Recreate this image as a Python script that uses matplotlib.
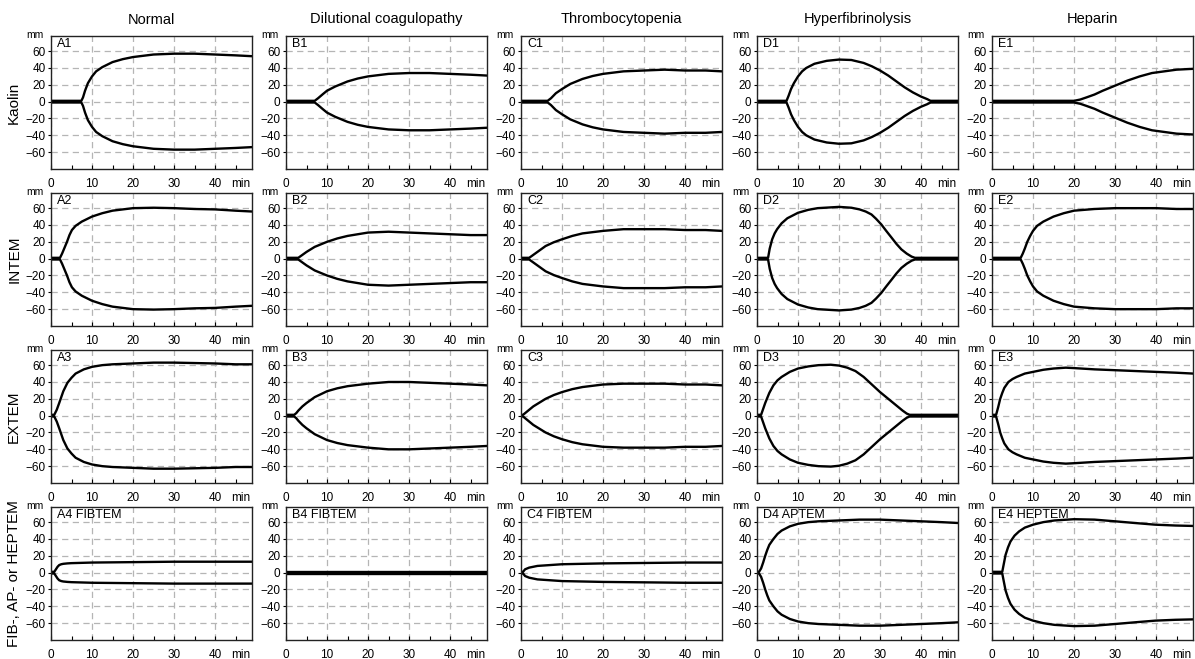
import matplotlib.pyplot as plt
from matplotlib.ticker import MultipleLocator

plt.rcParams['font.family'] = ['Liberation Sans', 'DejaVu Sans']

# column titles / row labels
col_titles = ["Normal", "Dilutional coagulopathy", "Thrombocytopenia", "Hyperfibrinolysis", "Heparin"]
row_labels = ["Kaolin", "INTEM", "EXTEM", "FIB-, AP- or HEPTEM"]
panel_labels = [
    ["A1", "B1", "C1", "D1", "E1"],
    ["A2", "B2", "C2", "D2", "E2"],
    ["A3", "B3", "C3", "D3", "E3"],
    ["A4 FIBTEM", "B4 FIBTEM", "C4 FIBTEM", "D4 APTEM", "E4 HEPTEM"],
]

# amplitude (mm) vs time (min); lower trace = -amplitude
A1_t = [0, 7.4, 7.8, 8.3, 9, 10, 11, 12.5, 15, 17.5, 20, 25, 30, 35, 40, 45, 49]
A1_mm = [1, 1, 5, 13, 22, 30, 36, 41, 47, 50.5, 53, 56, 57, 57, 56, 55, 54]
B1_t = [0, 7, 7.8, 9, 10, 12, 15, 17.5, 20, 25, 30, 35, 40, 45, 49]
B1_mm = [1, 1, 4, 9, 13, 18, 24, 27.5, 30, 33, 34, 34, 33, 32, 31]
C1_t = [0, 6.5, 7.3, 8.5, 10, 12, 15, 17.5, 20, 25, 30, 35, 40, 45, 49]
C1_mm = [1, 1, 4, 10, 15, 21, 27, 30.5, 33, 36, 37, 38, 37, 37, 36]
D1_t = [0, 7.2, 7.7, 8.3, 9, 10, 11, 12, 14, 17, 20, 23, 26, 28, 30, 32, 34, 36, 38, 40, 41.5, 42.3, 49]
D1_mm = [1, 1, 7, 15, 22, 30, 36, 40, 45, 48.5, 50, 49.5, 46, 42, 37, 31, 24, 17, 11, 6, 3, 1, 1]
E1_t = [0, 20, 21.5, 23, 25, 27, 30, 33, 36, 39, 42, 45, 49]
E1_mm = [1, 1, 2.5, 5, 8.5, 13, 19, 25, 30, 34, 36, 38, 39]

A2_t = [0, 2.2, 2.7, 3.3, 3.9, 4.5, 5.1, 6, 7.5, 10, 12.5, 15, 20, 25, 30, 35, 40, 45, 49]
A2_mm = [1, 1, 6, 13, 20, 28, 34, 39, 44, 50, 54, 57, 60, 60.5, 60, 59, 58.5, 57, 56]
B2_t = [0, 3, 4, 5, 7, 10, 12.5, 15, 20, 25, 30, 35, 40, 45, 49]
B2_mm = [1, 1, 4.5, 8, 14, 20, 24, 27, 31, 32, 31, 30, 29, 28, 28]
C2_t = [0, 2, 3, 4, 6, 8, 10, 12.5, 15, 20, 25, 30, 35, 40, 45, 49]
C2_mm = [1, 1, 4.5, 8, 15, 19.5, 23, 27, 30, 33, 35, 35, 35, 34, 34, 33]
D2_t = [0, 2.7, 3.1, 3.7, 4.3, 4.9, 6, 7.4, 10, 12.5, 14.8, 20, 23, 25, 26.5, 27.9, 29, 30.3,
        31.5, 32.8, 34, 35.2, 36.5, 37.7, 38.5, 49]
D2_mm = [1, 1, 12, 23, 30, 35, 42, 48, 54.5, 58, 60, 61.5, 60.5, 58.5, 56, 52.5, 47.5, 40.7,
         33, 25, 17.5, 11, 6, 2.4, 1, 1]
E2_t = [0, 7, 7.5, 8, 8.6, 9.3, 10, 11, 12.5, 15, 17.5, 20, 25, 30, 35, 40, 45, 49]
E2_mm = [1, 1, 6, 12, 20, 27, 33, 39, 44, 50, 54, 57, 59, 60, 60, 60, 59, 59]

A3_t = [0, 0.8, 1.4, 2, 2.5, 3, 4, 5, 6, 8, 10, 12.5, 15, 20, 25, 30, 35, 40, 45, 49]
A3_mm = [1, 1, 7, 15, 22, 29, 39, 45, 50, 55, 58, 60, 61, 62, 63, 63, 62.5, 62, 61, 61]
B3_t = [0, 2, 2.5, 3, 4, 5, 7, 10, 12.5, 15, 20, 25, 30, 35, 40, 45, 49]
B3_mm = [1, 1, 3, 6, 11, 15, 22, 29, 32.5, 35, 38, 40, 40, 39, 38, 37, 36]
C3_t = [0, 0.5, 1, 2, 3, 4, 6, 8, 10, 12.5, 15, 20, 25, 30, 35, 40, 45, 49]
C3_mm = [1, 1, 3, 7, 11, 14, 20, 24.5, 28, 31.5, 34, 37, 38, 38, 38, 37, 37, 36]
D3_t = [0, 1, 1.5, 2, 2.5, 3, 4, 5, 6, 8, 10, 12.5, 15, 18, 20, 22, 24, 26, 28, 30, 32, 34, 35.5,
        36.5, 37.2, 49]
D3_mm = [1, 1, 8, 15, 21, 27, 36, 42, 46, 52, 56, 58.5, 60, 60.5, 59.5, 57, 53, 46, 37, 28, 20,
         12, 6, 2.5, 1, 1]
E3_t = [0, 1, 1.5, 2, 2.5, 3, 4, 5, 6, 8, 10, 12.5, 15, 18, 20, 25, 30, 35, 40, 45, 49]
E3_mm = [1, 1, 10, 20, 27, 33, 40, 43.5, 46, 50, 52, 54.5, 56, 57, 56.5, 55, 54, 53, 52, 51, 50]

A4_t = [0, 0.8, 1.2, 1.6, 2, 2.5, 3, 4, 5, 10, 20, 30, 40, 49]
A4_mm = [1, 1, 4, 7, 9, 10, 10.5, 11, 11.3, 12, 12.5, 13, 13, 13]
B4_t = [0, 49]
B4_mm = [1.2, 1.2]
C4_t = [0, 0.5, 1, 1.5, 2, 3, 4, 5.5, 7, 10, 15, 20, 30, 40, 49]
C4_mm = [1, 1, 4, 5, 6, 7, 8, 8.5, 9, 10, 10.5, 11, 11.5, 12, 12]
D4_t = [0, 0.5, 1, 1.5, 2, 2.5, 3, 4, 5, 6, 8, 10, 12.5, 15, 20, 25, 30, 35, 40, 45, 49]
D4_mm = [1, 1, 5, 12, 20, 27, 33, 40, 46, 50, 55, 58, 60, 61, 62, 63, 63, 62, 61, 60, 59]
E4_t = [0, 2.5, 2.9, 3.3, 3.9, 4.5, 5.5, 6.6, 8, 10, 12.5, 15.2, 20, 25, 30, 34.8, 39.8, 44.7, 49]
E4_mm = [1, 1, 11, 21, 30, 37, 44, 49, 53.5, 57, 60, 62, 63.5, 63, 61, 59, 57, 56, 55.5]

traces = [
    [(A1_t, A1_mm), (B1_t, B1_mm), (C1_t, C1_mm), (D1_t, D1_mm), (E1_t, E1_mm)],
    [(A2_t, A2_mm), (B2_t, B2_mm), (C2_t, C2_mm), (D2_t, D2_mm), (E2_t, E2_mm)],
    [(A3_t, A3_mm), (B3_t, B3_mm), (C3_t, C3_mm), (D3_t, D3_mm), (E3_t, E3_mm)],
    [(A4_t, A4_mm), (B4_t, B4_mm), (C4_t, C4_mm), (D4_t, D4_mm), (E4_t, E4_mm)],
]

# figure layout in pixels
W, H = 1195, 659
lefts = [51, 286, 521, 757, 992]
tops = [36, 193, 350, 507]
aw, ah = 201, 133

fig = plt.figure(figsize=(W / 100, H / 100), dpi=100)

for r in range(4):
    for c in range(5):
        ax = fig.add_axes([lefts[c] / W, (H - tops[r] - ah) / H, aw / W, ah / H])
        t, mm = traces[r][c]
        ax.plot(t, mm, color='black', lw=1.7, solid_joinstyle='round')
        ax.plot(t, [-v for v in mm], color='black', lw=1.7, solid_joinstyle='round')

        ax.set_xlim(0, 49)
        ax.set_ylim(-80, 78)
        ax.xaxis.set_major_locator(MultipleLocator(10))
        ax.xaxis.set_minor_locator(MultipleLocator(5))
        ax.set_yticks([-60, -40, -20, 0, 20, 40, 60])
        ax.set_xticks([0, 10, 20, 30, 40])
        ax.tick_params(axis='x', which='both', direction='in', length=3, width=0.8,
                       labelsize=8.5, pad=6.5)
        ax.tick_params(axis='y', direction='out', length=2.5, width=0.8,
                       labelsize=8.5, pad=1.5)
        ax.grid(True, which='major', color='#b5b5b5', linestyle=(0, (5, 3.5)), lw=0.9)
        ax.set_axisbelow(True)
        for s in ax.spines.values():
            s.set_linewidth(1.0)
            s.set_color('#222222')

        ax.text(0.03, 0.985, panel_labels[r][c], transform=ax.transAxes,
                ha='left', va='top', fontsize=9)
        ax.text(-0.035, 1.005, "mm", transform=ax.transAxes, ha='right', va='center',
                fontsize=7.5)
        # "min" sits on the same baseline as the tick labels
        ax.annotate("min", xy=(46.3, 0), xycoords=('data', 'axes fraction'),
                    xytext=(0, -12.8), textcoords='offset points',
                    ha='center', va='baseline', fontsize=8.5)

        if r == 0:
            ax.set_title(col_titles[c], fontsize=10.5, pad=9)
        if c == 0:
            ax.set_ylabel(row_labels[r], fontsize=11, labelpad=3)

fig.savefig("out.png", dpi=100)
